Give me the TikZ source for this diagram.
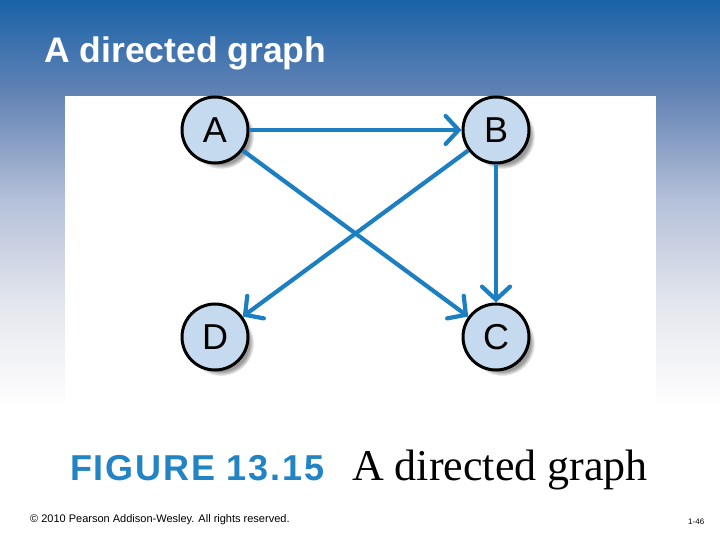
\documentclass[tikz,border=0pt]{standalone}
\usepackage{fontspec}
\setmainfont{Liberation Serif}
\newfontfamily\arialfont{Liberation Sans}
\newfontfamily\capfont[LetterSpace=5]{Liberation Sans}
\usetikzlibrary{arrows.meta,shadows}
\definecolor{topblue}{HTML}{1A63A8}
\definecolor{blueA}{HTML}{6584B5}
\definecolor{blueB}{HTML}{B5C0D9}
\definecolor{blueC}{HTML}{E2E5EC}
\definecolor{edgeblue}{HTML}{1B7FC1}
\definecolor{capblue}{HTML}{2284C4}
\definecolor{nodefill}{HTML}{C5DAEF}
\tikzset{
  vtx/.style={circle, draw=black, line width=3bp, fill=nodefill, minimum size=66bp, inner sep=0pt,
    font=\arialfont\fontsize{36bp}{38bp}\selectfont,
    circular drop shadow={shadow scale=1.0, shadow xshift=6bp, shadow yshift=-6bp, opacity=0.7, fill=black!55}},
  edge/.style={draw=edgeblue, line width=4.2bp, -{Straight Barb[length=13bp, width=28bp, line cap=round]}},
  band/.style={draw=none}
}
\begin{document}
\begin{tikzpicture}[x=1bp, y=-1bp]
\useasboundingbox (0,0) rectangle (720,540);
\fill[white] (0,0) rectangle (720,540);
\shade[band, top color=topblue, bottom color=blueA] (0,0) rectangle (720,96.5);
\shade[band, top color=blueA, bottom color=blueB] (0,96) rectangle (720,200.5);
\shade[band, top color=blueB, bottom color=blueC] (0,200) rectangle (720,300.5);
\shade[band, top color=blueC, bottom color=white] (0,300) rectangle (720,410);
\fill[white] (65,96) rectangle (656,420);
\node[anchor=base west, text=white, font=\arialfont\bfseries\fontsize{35.5bp}{40bp}\selectfont, inner sep=0pt] (title) at (44,63) {A directed graph};

\node[vtx] (A) at (215,130) {A};
\node[vtx] (B) at (496,130) {B};
\node[vtx] (D) at (215,337) {D};
\node[vtx] (C) at (496,337) {C};

\draw[edge] (A) -- (B);
\draw[edge] (A) -- (C);
\draw[edge] (B) -- (D);
\draw[edge] (B) -- (C);

\node[anchor=base west, text=capblue, font=\capfont\bfseries\fontsize{36bp}{40bp}\selectfont, inner sep=0pt] (fig) at (70,480) {FIGURE 13.15};
\node[anchor=base west, text=black, font=\fontsize{44bp}{48bp}\selectfont, inner sep=0pt] (cap) at (352,480) {A directed graph};
\node[anchor=base west, text=black, font=\arialfont\fontsize{11bp}{13bp}\selectfont, inner sep=0pt] (copy) at (30,522) {© 2010 Pearson Addison-Wesley. All rights reserved.};
\node[anchor=base west, text=black, font=\arialfont\fontsize{8bp}{10bp}\selectfont, inner sep=0pt] (pg) at (688,524) {1-46};
\end{tikzpicture}
\end{document}
